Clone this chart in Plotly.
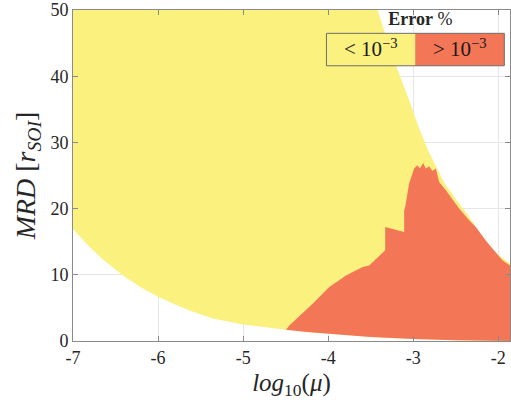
import plotly.graph_objects as go

# Lower boundary of the explored domain (MRD minimum)
lower_x = [-7.0, -6.82, -6.648, -6.413, -6.2, -6.0, -5.8, -5.63, -5.357, -5.0, -4.75, -4.495,
           -4.25, -4.0, -3.5, -3.0, -2.5, -1.863]
lower_y = [16.9, 14.4, 12.3, 9.9, 8.1, 6.7, 5.5, 4.6, 3.4, 2.5, 2.05, 1.7,
           1.35, 1.05, 0.6, 0.3, 0.12, 0.0]

# Upper boundary of the explored domain
upper_x = [-7.0, -3.42, -3.31, -3.20, -3.05, -2.94, -2.83, -2.63, -2.48, -2.34, -2.2, -2.07, -1.863]
upper_y = [50.0, 50.0, 45.6, 41.5, 36.4, 32.4, 28.9, 23.8, 21.1, 18.7, 16.0, 13.7, 11.7]

# Upper edge of the region with error > 1e-3
err_x = [-4.495, -4.457, -4.183, -3.987, -3.791, -3.596, -3.518, -3.439, -3.330, -3.330,
         -3.107, -3.107, -3.095, -3.048, -3.009, -2.990, -2.951, -2.922, -2.884, -2.852,
         -2.813, -2.775, -2.735, -2.696, -2.617, -2.559, -2.461, -2.343, -2.265, -2.148,
         -2.050, -1.953, -1.863]
err_y = [1.70, 2.34, 5.63, 8.14, 9.91, 11.17, 11.42, 12.44, 13.69, 17.22,
         16.46, 19.74, 20.24, 23.83, 25.54, 26.05, 26.55, 26.05, 26.90, 26.05,
         26.40, 25.69, 26.05, 24.02, 22.77, 21.75, 20.00, 18.23, 17.22, 15.20,
         13.69, 12.18, 11.42]

x_ticks = [-7, -6, -5, -4, -3, -2]
x_ticklabels = ["-7", "-6", "-5", "-4", "-3", "-2"]
y_ticks = [0, 10, 20, 30, 40, 50]
legend_title = "<b>Error</b> %"
legend_labels = ["&lt; 10<sup>−3</sup>", "&gt; 10<sup>−3</sup>"]

YELLOW = "#FAF17F"
ORANGE = "#F37656"
FONT = "Liberation Serif"

# Polygons
yel_x = upper_x + lower_x[::-1]
yel_y = upper_y + lower_y[::-1]

low_sub = [(x, y) for x, y in zip(lower_x, lower_y) if x >= err_x[0]]
org_x = err_x + [p[0] for p in low_sub][::-1]
org_y = err_y + [p[1] for p in low_sub][::-1]

fig = go.Figure()
fig.add_trace(go.Scatter(x=yel_x, y=yel_y, fill="toself", fillcolor=YELLOW,
                         line=dict(width=0, color=YELLOW), mode="lines",
                         hoverinfo="skip", showlegend=False))
fig.add_trace(go.Scatter(x=org_x, y=org_y, fill="toself", fillcolor=ORANGE,
                         line=dict(width=0, color=ORANGE), mode="lines",
                         hoverinfo="skip", showlegend=False))

axis_common = dict(showline=True, linecolor="#8a8a8a", linewidth=1, mirror="ticks",
                   ticks="inside", ticklen=5, tickcolor="#8a8a8a",
                   showgrid=True, gridcolor="#e6e6e6", gridwidth=1, zeroline=False,
                   tickfont=dict(family=FONT, size=18, color="#262626"))

fig.update_xaxes(range=[-7, -1.863], tickvals=x_ticks, ticktext=x_ticklabels,
                 title=dict(text="<i>log</i><sub>10</sub>(<i>μ</i>)",
                            font=dict(family=FONT, size=25, color="#262626"), standoff=6),
                 **axis_common)
fig.update_yaxes(range=[0, 50], tickvals=y_ticks,
                 title=dict(text="<i>MRD</i> [<i>r</i><sub><i>SOI</i></sub>]",
                            font=dict(family=FONT, size=28, color="#262626"), standoff=6),
                 **axis_common)

# Legend box on an overlay axis spanning the plot area (0..1)
lx0, lxm, lx1 = 0.580, 0.783, 0.987
ly0, ly1 = 0.8315, 0.9295
fig.update_layout(
    xaxis2=dict(overlaying="x", range=[0, 1], visible=False, fixedrange=True),
    yaxis2=dict(overlaying="y", range=[0, 1], visible=False, fixedrange=True),
)
fig.add_trace(go.Scatter(x=[lx0, lxm, lxm, lx0, lx0], y=[ly0, ly0, ly1, ly1, ly0],
                         xaxis="x2", yaxis="y2", fill="toself", fillcolor=YELLOW,
                         line=dict(width=0), mode="lines", hoverinfo="skip", showlegend=False))
fig.add_trace(go.Scatter(x=[lxm, lx1, lx1, lxm, lxm], y=[ly0, ly0, ly1, ly1, ly0],
                         xaxis="x2", yaxis="y2", fill="toself", fillcolor=ORANGE,
                         line=dict(width=0), mode="lines", hoverinfo="skip", showlegend=False))
fig.add_trace(go.Scatter(x=[lx0, lx1, lx1, lx0, lx0], y=[ly0, ly0, ly1, ly1, ly0],
                         xaxis="x2", yaxis="y2", line=dict(width=1, color="#6e6e6e"),
                         mode="lines", hoverinfo="skip", showlegend=False))
fig.add_trace(go.Scatter(x=[(lx0 + lxm) / 2, (lxm + lx1) / 2], y=[(ly0 + ly1) / 2 - 0.005] * 2,
                         xaxis="x2", yaxis="y2", mode="text", text=legend_labels,
                         textposition="middle center",
                         textfont=dict(family=FONT, size=21, color="#1a1a1a"),
                         hoverinfo="skip", showlegend=False))
fig.add_trace(go.Scatter(x=[0.795], y=[0.968], xaxis="x2", yaxis="y2", mode="text",
                         text=[legend_title], textposition="middle center",
                         textfont=dict(family=FONT, size=18, color="#262626"),
                         hoverinfo="skip", showlegend=False))

fig.update_layout(width=511, height=405, margin=dict(l=73, r=1, t=10, b=64),
                  plot_bgcolor="white", paper_bgcolor="white", showlegend=False)

fig.write_html("out.html")
